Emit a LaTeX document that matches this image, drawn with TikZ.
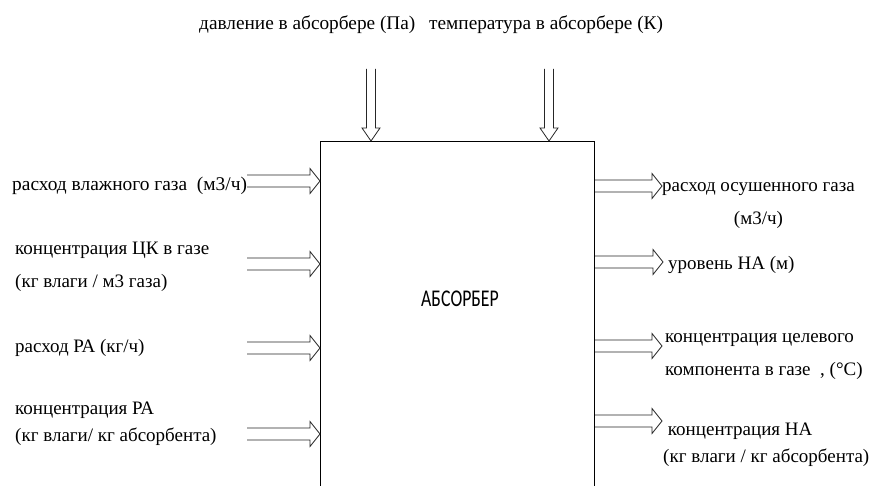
\documentclass[tikz,border=0pt]{standalone}
\usepackage{fontspec}
\setmainfont{Liberation Serif}
\newfontfamily\boxfont{Carlito}[FakeStretch=0.74]
\usetikzlibrary{calc}
\begin{document}
\begin{tikzpicture}[x=1pt,y=-1pt,
  blk/.style n args={3}{line width=0.8pt, draw=black!85, line join=miter, to path={
    ($(\tikztotarget)!#3!(\tikztostart)$) coordinate (hb)
    ($(\tikztostart)!#1!90:(\tikztotarget)$) -- ($(hb)!#1!-90:(\tikztostart)$)
    -- ($(hb)!#2!-90:(\tikztostart)$) -- (\tikztotarget)
    -- ($(hb)!#2!90:(\tikztostart)$) -- ($(hb)!#1!90:(\tikztostart)$)
    -- ($(\tikztostart)!#1!-90:(\tikztotarget)$)}},
  side/.style={blk={6pt}{12.5pt}{10pt}},
  down/.style={blk={4.5pt}{9pt}{13pt}},
  lbl/.style={font=\fontsize{19}{33}\selectfont, inner sep=0pt, align=left},
  lbls/.style={font=\fontsize{19}{27}\selectfont, inner sep=0pt, align=left}]
\clip (0,0) rectangle (872,486);
\fill[white] (0,0) rectangle (872,486);
% box
\node[draw, line width=1pt, minimum width=274pt, minimum height=400pt, anchor=north west, inner sep=0pt] (abs) at (320,141) {};
\node[font=\boxfont\fontsize{24}{28}\selectfont, inner sep=0pt] (title) at (460,299) {АБСОРБЕР};
% top labels
\node[lbl, anchor=west, font=\fontsize{19.3}{33}\selectfont] (tp) at (199,25) {давление в абсорбере (Па)};
\node[lbl, anchor=west, font=\fontsize{19.3}{33}\selectfont] (tt) at (429,25) {температура в абсорбере (К)};
\coordinate (t1) at (371,69);
\coordinate (t2) at (549,69);
\coordinate (t1e) at (t1 |- abs.north);
\coordinate (t2e) at (t2 |- abs.north);
\draw[down] (t1) to (t1e);
\draw[down] (t2) to (t2e);
% left labels
\node[lbl, anchor=west, font=\fontsize{19.4}{33}\selectfont] (l1t) at (12,186) {расход влажного газа\ \ (м3/ч)};
\node[lbl, anchor=west] (l2t) at (15,267) {концентрация ЦК в газе\\(кг влаги / м3 газа)};
\node[lbl, anchor=west] (l3t) at (15,348) {расход РА (кг/ч)};
\node[lbls, anchor=west] (l4t) at (15,424) {концентрация РА\\(кг влаги/ кг абсорбента)};
\coordinate (l1) at (247,181);
\coordinate (l2) at (247,264);
\coordinate (l3) at (247,348);
\coordinate (l4) at (247,434);
\foreach \c in {l1,l2,l3,l4} {
  \coordinate (\c e) at (\c -| abs.west);
  \draw[side] (\c) to (\c e);
}
% right labels
\coordinate (r1) at (662,186);
\coordinate (r2) at (663,262);
\coordinate (r3) at (662,346);
\coordinate (r4) at (662,421);
\foreach \c in {r1,r2,r3,r4} {
  \coordinate (\c s) at (\c -| abs.east);
  \draw[side] (\c s) to (\c);
}
\node[lbl, align=center, anchor=north west] (r1t) at (662,182) {расход осушенного газа\\(м3/ч)};
\node[lbl, anchor=west] (r2t) at (668,265) {уровень НА (м)};
\node[lbl, anchor=west] (r3t) at (665,357) {концентрация целевого\\компонента в газе\ \ , (°C)};
\node[lbls, anchor=west] (r4t) at (663,445) {\ концентрация НА\\(кг влаги / кг абсорбента)};
\end{tikzpicture}
\end{document}
